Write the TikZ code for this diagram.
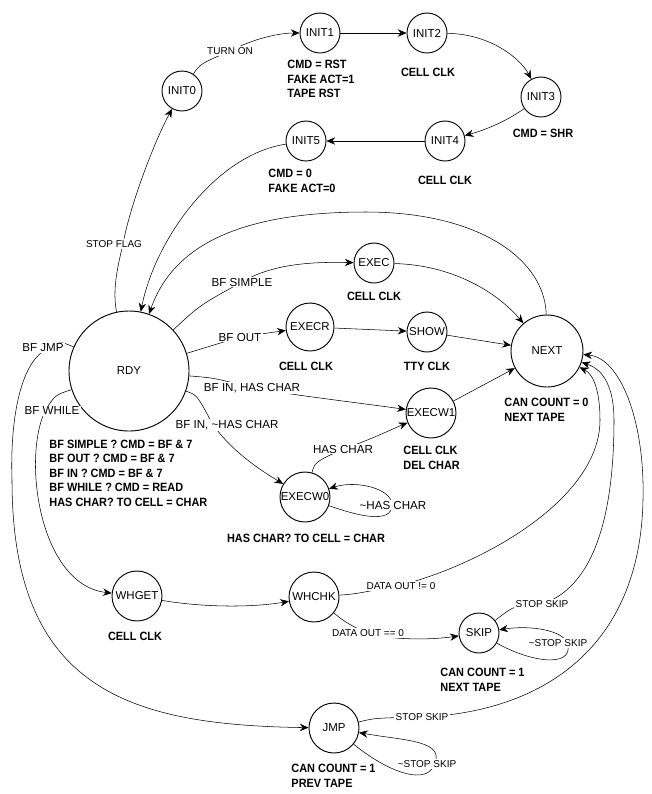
\documentclass[tikz,border=0pt]{standalone}
\usepackage{fontspec}
\setmainfont{Liberation Sans}
\newfontfamily\notefont[FakeStretch=0.91]{Liberation Sans}
\usetikzlibrary{arrows.meta,backgrounds}

\begin{document}
\begin{tikzpicture}[x=0.75pt,y=-0.75pt,line width=0.7pt,
	st/.style={draw,circle,inner sep=0pt,minimum size=30pt,font=\fontsize{8.6}{10}\selectfont},
	lab/.style={fill=white,inner sep=1pt,font=\fontsize{8.7}{10}\selectfont},
	slab/.style={fill=white,inner sep=1pt,font=\fontsize{7.5}{9}\selectfont},
	note/.style={align=left,inner sep=0pt,font=\notefont\bfseries\fontsize{9}{10.9}\selectfont},
	>={Stealth[length=6.5pt,width=5.5pt]}]
	\useasboundingbox (0,0) rectangle (652,794);
	% states
	\foreach \n/\t/\x/\y in {init0/INIT0/182/91, init1/INIT1/320/33, init2/INIT2/427/33,
		init3/INIT3/541/97, init4/INIT4/445/141, init5/INIT5/306/141,
		exec/EXEC/374/263, show/SHOW/427/332, skip/SKIP/479/633}
		\node[st] (\n) at (\x,\y) {\t};
	\node[st,minimum size=36pt] (execr) at (310,327) {EXECR};
	\foreach \n/\t/\x/\y in {execw1/EXECW1/431/413, execw0/EXECW0/305/497,
		whget/WHGET/137/596, whchk/WHCHK/314/597, jmp/JMP/334/728}
		\node[st,minimum size=37.5pt] (\n) at (\x,\y) {\t};
	\node[st,minimum size=90pt] (rdy) at (129,371) {RDY};
	\node[st,minimum size=54pt] (next) at (547,351) {NEXT};
	% transition labels
	\node[slab] (lTurnOn) at (230,51) {TURN ON};
	\node[slab] (lStopFlag) at (114,244) {STOP FLAG};
	\node[lab] (lSimple) at (242,282) {BF SIMPLE};
	\node[lab] (lOut) at (240,337) {BF OUT};
	\node[lab] (lInHas) at (252,388) {BF IN, HAS CHAR};
	\node[lab] (lInNot) at (227,425) {BF IN, \textasciitilde HAS CHAR};
	\node[lab] (lJmp) at (43,348) {BF JMP};
	\node[lab] (lWhile) at (52,411) {BF WHILE};
	\node[lab] (lHasChar) at (343,449) {HAS CHAR};
	\node[lab] (lNotHas) at (393,505) {\textasciitilde HAS CHAR};
	\node[slab] (lDataNe) at (401,586) {DATA OUT != 0};
	\node[slab] (lDataEq) at (368,633) {DATA OUT == 0};
	\node[slab] (lSkipA) at (542,604) {STOP SKIP};
	\node[slab] (lNotSkipA) at (558,643) {\textasciitilde STOP SKIP};
	\node[slab] (lSkipB) at (422,717) {STOP SKIP};
	\node[slab] (lNotSkipB) at (427,764) {\textasciitilde STOP SKIP};
	% notes
	\node[note,anchor=west] (nInit1) at (287,79) {CMD = RST\\FAKE ACT=1\\TAPE RST};
	\node[note] (nInit2) at (428,72) {CELL CLK};
	\node[note] (nInit3) at (543,133) {CMD = SHR};
	\node[note] (nInit4) at (445,180) {CELL CLK};
	\node[note,anchor=west] (nInit5) at (268,181) {CMD = 0\\FAKE ACT=0};
	\node[note] (nExec) at (374,296) {CELL CLK};
	\node[note] (nExecr) at (306,366) {CELL CLK};
	\node[note] (nShow) at (427,366) {TTY CLK};
	\node[note,anchor=west] (nNext) at (504,410) {CAN COUNT = 0\\NEXT TAPE};
	\node[note,anchor=west] (nExecw1) at (403,458) {CELL CLK\\DEL CHAR};
	\node[note,anchor=west] (nRdy) at (49,473) {BF SIMPLE ? CMD = BF \& 7\\BF OUT ? CMD = BF \& 7\\BF IN ? CMD = BF \& 7\\BF WHILE ? CMD = READ\\HAS CHAR? TO CELL = CHAR};
	\node[note] (nExecw0) at (306,538) {HAS CHAR? TO CELL = CHAR};
	\node[note] (nWhget) at (135,636) {CELL CLK};
	\node[note,anchor=west] (nSkip) at (440,680) {CAN COUNT = 1\\NEXT TAPE};
	\node[note,anchor=west] (nJmp) at (291,776) {CAN COUNT = 1\\PREV TAPE};
	% transitions
	\begin{scope}[on background layer]
		% init chain
		\draw[->] (init0) .. controls (200,64) .. (230,51) .. controls (255,38) and (280,33) .. (init1);
		\draw[->] (init1) -- (init2);
		\draw[->] (init2) .. controls (490,34) and (520,58) .. (init3);
		\draw[->] (init3) .. controls (505,122) and (485,130) .. (init4);
		\draw[->] (init4) -- (init5);
		\draw[->] (init5) .. controls (215,155) and (155,240) .. (rdy);
		\draw[->] (rdy) .. controls (112,290) and (118,265) .. (123,244) .. controls (130,205) and (155,140) .. (init0);
		% back to rdy
		\draw[->] (next) .. controls (545,260) and (480,212) .. (366,212) .. controls (250,212) and (175,240) .. (rdy);
		% exec paths
		\draw[->] (rdy) .. controls (200,305) .. (242,282) .. controls (275,262) and (320,262) .. (exec);
		\draw[->] (exec) .. controls (450,265) and (495,290) .. (next);
		\draw[->] (rdy) -- (240,337) -- (execr);
		\draw[->] (execr) -- (show);
		\draw[->] (show) -- (next);
		\draw[->] (rdy) .. controls (215,378) .. (252,388) .. controls (300,396) and (360,403) .. (execw1);
		\draw[->] (execw1) -- (next);
		\draw[->] (rdy) .. controls (197,395) .. (212,423) .. controls (230,450) and (260,470) .. (execw0);
		\draw[->] (execw0) .. controls (315,462) .. (343,449) .. controls (370,440) and (390,430) .. (execw1);
		\draw[->] (execw0) .. controls (355,515) and (392,525) .. (392,505) .. controls (392,488) and (355,480) .. (execw0);
		% while
		\draw[->] (rdy) .. controls (55,395) .. (45,411) .. controls (22,460) and (40,585) .. (whget);
		\draw[->] (whget) .. controls (200,607) and (250,608) .. (whchk);
		\draw[->] (whchk) .. controls (355,594) .. (401,585) .. controls (480,565) and (600,500) .. (600,420) .. controls (600,395) and (595,375) .. (next);
		\draw[->] (whchk) .. controls (345,622) .. (368,634) .. controls (395,640) and (430,640) .. (skip);
		\draw[->] (skip) .. controls (515,605) .. (542,604) .. controls (600,585) and (614,500) .. (614,420) .. controls (614,390) and (605,370) .. (next);
		\draw[->] (skip) .. controls (530,662) and (572,668) .. (568,645) .. controls (565,630) and (530,625) .. (skip);
		% jmp
		\draw[->] (rdy) .. controls (60,341) .. (45,350) .. controls (20,365) and (10,420) .. (12,480) .. controls (12,690) and (130,725) .. (jmp);
		\draw[->] (jmp) .. controls (375,718) .. (422,717) .. controls (540,712) and (640,650) .. (643,500) .. controls (645,420) and (620,358) .. (next);
		\draw[->] (jmp) .. controls (385,770) and (430,790) .. (436,760) .. controls (440,740) and (400,740) .. (jmp);
	\end{scope}
\end{tikzpicture}
\end{document}
